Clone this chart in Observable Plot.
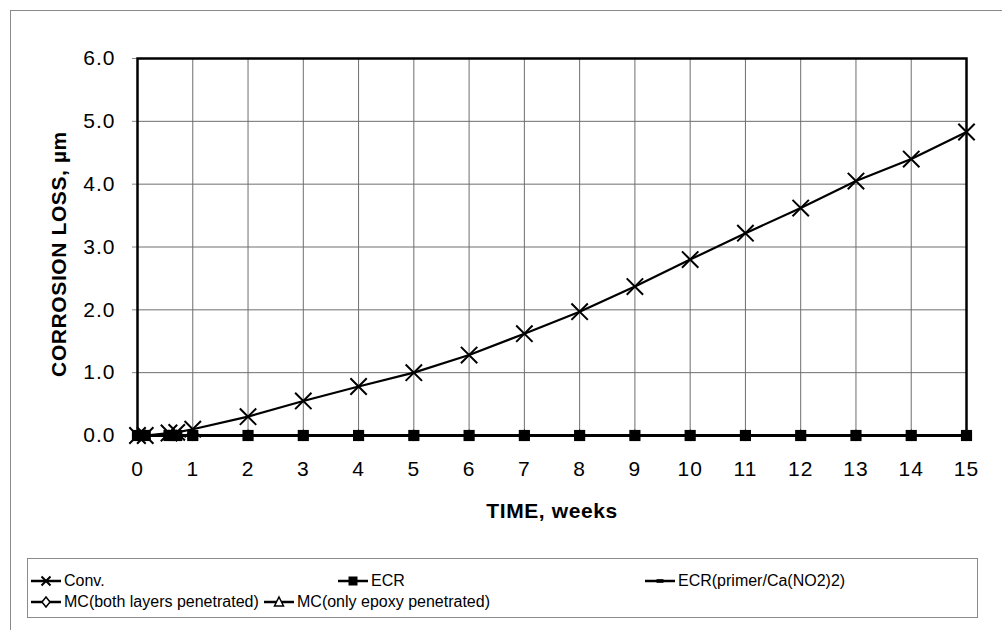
<!DOCTYPE html>
<html><head><meta charset="utf-8">
<script src="https://cdn.jsdelivr.net/npm/d3@7"></script>
<script src="https://cdn.jsdelivr.net/npm/@observablehq/plot@0.6"></script>
<style>
body{margin:0;background:#fff;font-family:"Liberation Sans",Arial,sans-serif;}
#wrap{position:relative;width:1002px;height:630px;overflow:hidden;background:#fff;}
#outer{position:absolute;left:10px;top:10px;width:1000px;height:640px;border:1px solid #8a8a8a;}
#chart{position:absolute;left:0;top:0;}
#legend{position:absolute;left:27px;top:558px;width:949px;height:58px;border:1px solid #8a8a8a;background:#fff;}
.item{position:absolute;display:flex;align-items:center;font-size:16px;color:#000;white-space:nowrap;}
.item svg{margin-right:3px;}
</style></head>
<body>
<div id="wrap"><div id="outer"></div><div id="chart"></div><div id="legend"></div></div>
<script>
// ---- data ----
const times   = [0, 0.14, 0.57, 0.71, 1, 2, 3, 4, 5, 6, 7, 8, 9, 10, 11, 12, 13, 14, 15];
const conv    = [0, 0, 0.04, 0.05, 0.10, 0.30, 0.55, 0.78, 1.00, 1.28, 1.62, 1.97, 2.37, 2.80, 3.22, 3.62, 4.05, 4.40, 4.83];
const ecr     = [0, 0, 0, 0, 0, 0, 0, 0, 0, 0, 0, 0, 0, 0, 0, 0, 0, 0, 0];
const ecrPrimer = [0, 0, 0, 0, 0, 0, 0, 0, 0, 0, 0, 0, 0, 0, 0, 0, 0, 0, 0];
const mcBoth  = [0, 0, 0, 0, 0, 0, 0, 0, 0, 0, 0, 0, 0, 0, 0, 0, 0, 0, 0];
const mcEpoxy = [0, 0, 0, 0, 0, 0, 0, 0, 0, 0, 0, 0, 0, 0, 0, 0, 0, 0, 0];
const seriesNames = ["Conv.", "ECR", "ECR(primer/Ca(NO2)2)", "MC(both layers penetrated)", "MC(only epoxy penetrated)"];
const xTicks = [0,1,2,3,4,5,6,7,8,9,10,11,12,13,14,15];
const yTicks = [0,1,2,3,4,5,6];
const xLabel = "TIME, weeks";
const yLabel = "CORROSION LOSS, µm";

const seriesValues = [conv, ecr, ecrPrimer, mcBoth, mcEpoxy];
const rows = seriesNames.map((name, i) => times.map((t, j) => ({series: name, time: t, value: seriesValues[i][j]})));

const dash = {draw(ctx, size){ const w = Math.sqrt(size)*1.3, h = w*0.4; ctx.rect(-w/2, -h/2, w, h); }};

const W = 1002, H = 540;
const font = '"Liberation Sans", Arial, sans-serif';

const plot = Plot.plot({
  width: W, height: H,
  marginLeft: 137, marginRight: 36, marginTop: 58, marginBottom: 105,
  style: {fontFamily: font, fontSize: "20px", color: "#000", background: "transparent"},
  x: {domain: [0, 15]},
  y: {domain: [0, 6]},
  marks: [
    Plot.gridX(xTicks, {stroke: "#6e6e6e", strokeOpacity: 1, strokeWidth: 1}),
    Plot.gridY(yTicks, {stroke: "#6e6e6e", strokeOpacity: 1, strokeWidth: 1}),
    Plot.axisX({ticks: xTicks, tickSize: 5, tickPadding: 21, label: xLabel, labelAnchor: "center", labelArrow: "none", labelOffset: 82, tickFormat: d => String(d)}),
    Plot.axisY({ticks: yTicks, tickSize: 5, tickPadding: 17, tickFormat: d3.format(".1f"), label: yLabel, labelAnchor: "center", labelArrow: "none", labelOffset: 86}),
    Plot.frame({stroke: "#000", strokeWidth: 2.5}),
    // MC series (behind)
    Plot.line(rows[4], {x: "time", y: "value", stroke: "#000", strokeWidth: 2.5}),
    Plot.dot(rows[4], {x: "time", y: "value", symbol: "triangle2", r: 4, stroke: "#000", strokeWidth: 1.5, fill: "#fff"}),
    Plot.line(rows[3], {x: "time", y: "value", stroke: "#000", strokeWidth: 2.5}),
    Plot.dot(rows[3], {x: "time", y: "value", symbol: "diamond2", r: 4.2, stroke: "#000", strokeWidth: 1.5, fill: "#fff"}),
    Plot.line(rows[2], {x: "time", y: "value", stroke: "#000", strokeWidth: 2.5}),
    Plot.dot(rows[2], {x: "time", y: "value", symbol: dash, r: 4, fill: "#000", stroke: "none"}),
    Plot.line(rows[1], {x: "time", y: "value", stroke: "#000", strokeWidth: 3}),
    Plot.dot(rows[1], {x: "time", y: "value", symbol: "square", r: 6.3, fill: "#000", stroke: "none"}),
    Plot.line(rows[0], {x: "time", y: "value", stroke: "#000", strokeWidth: 2.2}),
    Plot.dot(rows[0], {x: "time", y: "value", symbol: "times", r: 7.5, stroke: "#000", strokeWidth: 2, fill: "none"})
  ]
});
// tick label and axis title styling
plot.querySelectorAll('g[aria-label="x-axis tick label"], g[aria-label="y-axis tick label"]').forEach(g => {
  g.style.fontSize = "21px"; g.style.letterSpacing = "1px";
});
plot.querySelectorAll('g[aria-label="x-axis tick"], g[aria-label="y-axis tick"]').forEach(g => {
  g.setAttribute("stroke", "#888");
});
plot.querySelectorAll('g[aria-label="x-axis label"], g[aria-label="y-axis label"]').forEach(g => {
  g.style.fontSize = "21px"; g.style.fontWeight = "bold"; g.style.letterSpacing = "0.6px";
});
plot.querySelectorAll('g[aria-label="y-axis label"]').forEach(g => {
  const t = g.getAttribute("transform") || "";
  g.setAttribute("transform", "translate(0,7) " + t);
});
document.getElementById("chart").appendChild(plot);

// ---- legend ----
const sym = {
  "Conv.": '<path d="M-4.5,-4.5L4.5,4.5M-4.5,4.5L4.5,-4.5" stroke="#000" stroke-width="2" fill="none"/>',
  "ECR": '<rect x="-4.5" y="-4.5" width="9" height="9" fill="#000"/>',
  "ECR(primer/Ca(NO2)2)": '<rect x="-3.5" y="-1.8" width="7" height="3.6" fill="#000"/>',
  "MC(both layers penetrated)": '<path d="M0,-5L4,0L0,5L-4,0Z" stroke="#000" stroke-width="1.5" fill="#fff"/>',
  "MC(only epoxy penetrated)": '<path d="M0,-5L4.5,4L-4.5,4Z" stroke="#000" stroke-width="1.5" fill="#fff"/>'
};
const pos = [[3, 23], [310, 23], [617, 23], [3, 44], [236, 44]];
const lg = document.getElementById("legend");
seriesNames.forEach((name, i) => {
  const d = document.createElement("div");
  d.className = "item";
  d.style.left = pos[i][0] + "px"; d.style.top = (pos[i][1] - 10) + "px";
  d.innerHTML = `<svg width="30" height="14" viewBox="-15 -7 30 14"><line x1="-15" x2="15" y1="0" y2="0" stroke="#000" stroke-width="2.5"/>${sym[name]}</svg><span>${name}</span>`;
  lg.appendChild(d);
});
</script>
</body></html>
